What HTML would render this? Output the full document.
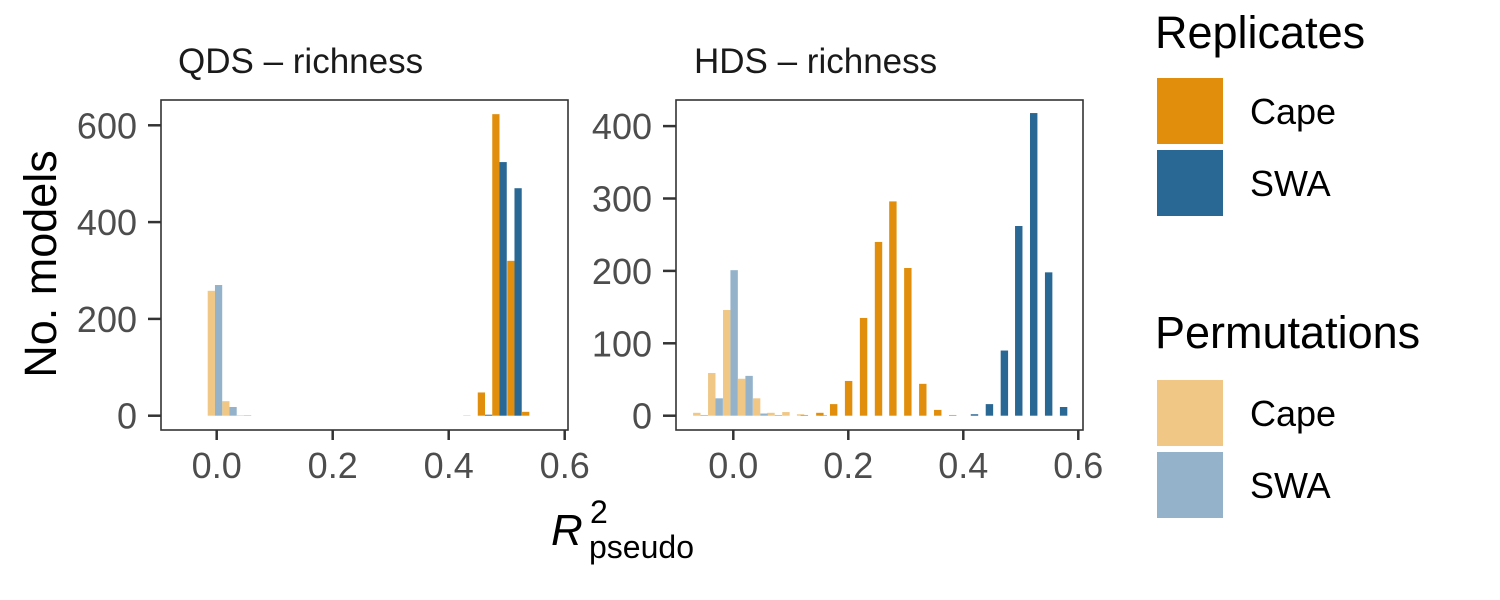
<!DOCTYPE html>
<html><head><meta charset="utf-8"><style>
html,body{margin:0;padding:0;background:#fff;}
svg{display:block;font-family:"Liberation Sans",sans-serif;}
</style></head><body>
<svg id="chart" width="1500" height="600" viewBox="0 0 1500 600">
<g id="panels"></g>
<text x="56" y="264" transform="rotate(-90 56 264)" text-anchor="middle" font-size="45" fill="#000">No. models</text>
<g>
<text x="551" y="545" font-size="44" font-style="italic" fill="#000">R</text>
<text x="590" y="523" font-size="32" fill="#000">2</text>
<text x="589" y="558" font-size="32" fill="#000">pseudo</text>
</g>
<g>
<text x="1155" y="48" font-size="45" fill="#000">Replicates</text>
<rect x="1157" y="78" width="66" height="66" fill="#E08E0B"/>
<text x="1250" y="124" font-size="36" fill="#000">Cape</text>
<rect x="1157" y="150" width="66" height="66" fill="#296794"/>
<text x="1250" y="196" font-size="36" fill="#000">SWA</text>
</g>
<g>
<text x="1155" y="348" font-size="45" fill="#000">Permutations</text>
<rect x="1157" y="380" width="66" height="66" fill="#F0C785"/>
<text x="1250" y="426" font-size="36" fill="#000">Cape</text>
<rect x="1157" y="452" width="66" height="66" fill="#94B3CB"/>
<text x="1250" y="498" font-size="36" fill="#000">SWA</text>
</g>
</svg>
<script>
// QDS panel data
const qdsPermBins = [0.4375, -0.003, 0.022, 0.047];
const qdsPermCape = [1, 258, 30, 1];
const qdsPermSWA = [0, 270, 18, 1];
const qdsRepBins = [0.4626, 0.4876, 0.5134, 0.539];
const qdsRepCape = [48, 623, 320, 8];
const qdsRepSWA = [2, 524, 470, 0];
const qdsYTicks = [0, 200, 400, 600];
// HDS panel data
const hdsPermBins = [-0.057, -0.031, -0.005, 0.021, 0.047, 0.072, 0.098, 0.1235, 0.150];
const hdsPermCape = [4, 59, 146, 51, 24, 4, 5, 2, 0];
const hdsPermSWA = [1, 24, 201, 55, 3, 1, 0, 0, 1];
const hdsRepCapeBins = [0.130, 0.157, 0.181, 0.207, 0.233, 0.259, 0.284, 0.310, 0.336, 0.362, 0.388];
const hdsRepCape = [1, 4, 16, 48, 135, 240, 296, 204, 44, 8, 1];
const hdsRepSWABins = [0.413, 0.439, 0.465, 0.490, 0.516, 0.542, 0.568];
const hdsRepSWA = [2, 16, 90, 262, 418, 198, 12];
const hdsYTicks = [0, 100, 200, 300, 400];
const xTicks = [0.0, 0.2, 0.4, 0.6];
const xTickLabels = ["0.0", "0.2", "0.4", "0.6"];

const NS = "http://www.w3.org/2000/svg";
const root = document.getElementById('panels');
function mk(tag, attrs, parent){const e=document.createElementNS(NS,tag);for(const k in attrs)e.setAttribute(k,attrs[k]);parent.appendChild(e);return e;}

function panel(cfg){
  const g = mk('g',{},root);
  
  
  const sx = v => cfg.x0 + (v - 0) * cfg.xs;
  const sy = v => cfg.y0 - v * cfg.ys;
  const bw = cfg.bw * cfg.xs / 2;
  function bars(bins, vals, side, color, nm){
    bins.forEach((b,i)=>{
      if(!vals[i]) return;
      const c = sx(b);
      const x = side===0 ? c - bw : c;
      const r = mk('rect',{x:x, y:sy(vals[i]), width:bw, height:vals[i]*cfg.ys, fill:color}, g);
      
      
    });
  }
  cfg.series.forEach(s => bars(s[0], s[1], s[2], s[3], s[4]));
  const f = mk('rect',{x:cfg.L, y:cfg.T, width:cfg.R-cfg.L, height:cfg.B-cfg.T, fill:'none', stroke:'#333', 'stroke-width':1.6}, g);
  
  
  cfg.yTicks.forEach(t=>{
    mk('line',{x1:cfg.L-13,x2:cfg.L,y1:sy(t),y2:sy(t),stroke:'#333','stroke-width':2.5},g);
    const tx = mk('text',{x:cfg.L-24,y:sy(t)+13,'text-anchor':'end','font-size':36,fill:'#4D4D4D'},g);
    tx.textContent = t;
    
    
  });
  xTicks.forEach((t,i)=>{
    mk('line',{x1:sx(t),x2:sx(t),y1:cfg.B,y2:cfg.B+10,stroke:'#333','stroke-width':2.5},g);
    const tx = mk('text',{x:sx(t),y:478,'text-anchor':'middle','font-size':36,fill:'#4D4D4D'},g);
    tx.textContent = xTickLabels[i];
    
    
  });
  const st = mk('text',{x:cfg.stripX,y:73,'font-size':35,fill:'#1A1A1A'},g);
  st.textContent = cfg.title;
  
  
}

panel({name:'qds-panel', title:'QDS – richness', stripX:178, L:161, R:568, T:100, B:430,
  x0:216.7, xs:580, y0:415.7, ys:96.8/200, bw:0.025, yTicks:qdsYTicks,
  series:[[qdsPermBins,qdsPermCape,0,'#F0C785','perm-cape'],[qdsPermBins,qdsPermSWA,1,'#94B3CB','perm-swa'],
          [qdsRepBins,qdsRepCape,0,'#E08E0B','rep-cape'],[qdsRepBins,qdsRepSWA,1,'#296794','rep-swa']]});
panel({name:'hds-panel', title:'HDS – richness', stripX:694, L:676, R:1083, T:100, B:430,
  x0:733.3, xs:575, y0:415.7, ys:72.4/100, bw:0.0258, yTicks:hdsYTicks,
  series:[[hdsPermBins,hdsPermCape,0,'#F0C785','perm-cape'],[hdsPermBins,hdsPermSWA,1,'#94B3CB','perm-swa'],
          [hdsRepCapeBins,hdsRepCape,0,'#E08E0B','rep-cape'],[hdsRepSWABins,hdsRepSWA,1,'#296794','rep-swa']]});
</script>
</body></html>
